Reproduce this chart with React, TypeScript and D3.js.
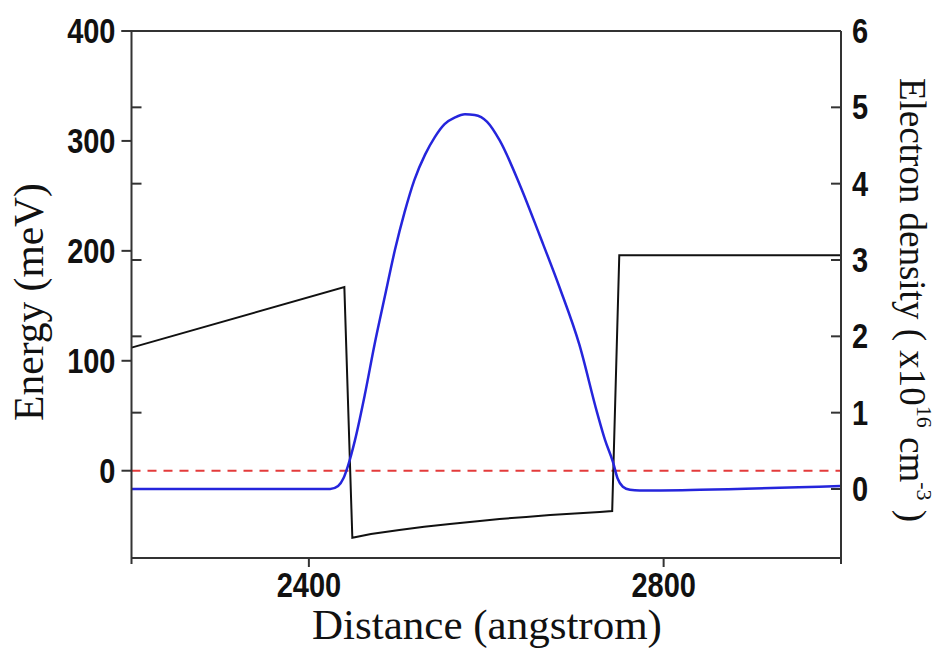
import React from "react";
import * as d3 from "d3";

// Energy profile (left axis, meV)
const energyX = [2200, 2440, 2449, 2470, 2502, 2530, 2559, 2590, 2615, 2645, 2672, 2700, 2728, 2742, 2750, 3000];
const energyY = [112, 167, -61, -57.5, -54, -51, -48.5, -46, -43.9, -42, -40.3, -39, -37.6, -36.7, 196, 196];

// Electron density (right axis, x10^16 cm^-3)
const densityX = [2200, 2424, 2433, 2439, 2444, 2452, 2463, 2474, 2486, 2497, 2508, 2519, 2531, 2542, 2553, 2565, 2576, 2587, 2601, 2615, 2638, 2660, 2683, 2705, 2725, 2734, 2743, 2748, 2754, 2762, 2773, 2841, 3000];
const densityY = [0, 0, 0.04, 0.14, 0.3, 0.64, 1.23, 1.89, 2.54, 3.13, 3.63, 4.05, 4.38, 4.61, 4.78, 4.87, 4.91, 4.9, 4.81, 4.57, 3.98, 3.33, 2.63, 1.89, 1.0, 0.64, 0.35, 0.14, 0.03, -0.01, -0.02, -0.01, 0.04];

const xTicks = [2400, 2800];
const leftTicks = [0, 100, 200, 300, 400];
const rightTicks = [0, 1, 2, 3, 4, 5, 6];
const zeroLine = [0];

const W = 946, H = 657;
const M = { left: 131.5, right: 841, top: 31, bottom: 558 };

export default function App() {
  const x = d3.scaleLinear().domain([2200, 3000]).range([M.left, M.right]);
  const yL = d3.scaleLinear().domain([-79.4, 400]).range([M.bottom, M.top]);
  const yR = d3.scaleLinear().domain([-0.904, 6]).range([M.bottom, M.top]);

  const energyLine = d3.line<number>().x((d, i) => x(energyX[i])).y((d) => yL(d));
  const densityLine = d3.line<number>().x((d, i) => x(densityX[i])).y((d) => yR(d)).curve(d3.curveMonotoneX);

  const axisColor = "#333";
  const tickFont = "'Liberation Sans', Arial, sans-serif";
  const titleFont = "'Liberation Serif', 'Times New Roman', serif";
  const sy = 1.2;

  return (
    <svg width={W} height={H} style={{ position: "absolute", left: 0, top: 0, background: "#fff" }}>
      <rect x={0} y={0} width={W} height={H} fill="#fff" />
      {zeroLine.map((v) => (
        <line key={v} x1={M.left} x2={M.right} y1={yL(v)} y2={yL(v)} stroke="#e33b3b" strokeWidth={2} strokeDasharray="9,7" />
      ))}
      <path d={energyLine(energyY) || ""} fill="none" stroke="#111" strokeWidth={2} />
      <path d={densityLine(densityY) || ""} fill="none" stroke="#2525dc" strokeWidth={2.5} />

      {/* frame */}
      <line x1={M.left - 10} x2={M.right} y1={M.top} y2={M.top} stroke={axisColor} strokeWidth={2} />
      <line x1={M.left} x2={M.right} y1={M.bottom} y2={M.bottom} stroke={axisColor} strokeWidth={2} />
      <line x1={M.left} x2={M.left} y1={M.top} y2={M.bottom + 6} stroke={axisColor} strokeWidth={2} />
      <line x1={M.right} x2={M.right} y1={M.top} y2={M.bottom + 6} stroke={axisColor} strokeWidth={2} />

      {xTicks.map((t) => (
        <g key={t}>
          <line x1={x(t)} x2={x(t)} y1={M.bottom} y2={M.bottom + 9} stroke={axisColor} strokeWidth={2} />
          <g transform={`translate(${x(t)},${M.bottom + 39}) scale(1,${sy})`}>
            <text textAnchor="middle" fontFamily={tickFont} fontWeight="bold" fontSize={29} fill="#111">{t}</text>
          </g>
        </g>
      ))}

      {leftTicks.map((t) => (
        <g key={t}>
          <line x1={M.left - 10} x2={M.left} y1={yL(t)} y2={yL(t)} stroke={axisColor} strokeWidth={2} />
          <g transform={`translate(${M.left - 16},${yL(t) + 12}) scale(1,${sy})`}>
            <text textAnchor="end" fontFamily={tickFont} fontWeight="bold" fontSize={29} fill="#111">{t}</text>
          </g>
        </g>
      ))}
      {rightTicks.filter((t) => t > 0 && t < 6).map((t) => (
        <line key={t} x1={M.left} x2={M.left + 10} y1={yR(t)} y2={yR(t)} stroke={axisColor} strokeWidth={2} />
      ))}

      {rightTicks.map((t) => (
        <g key={t}>
          <line x1={M.right - 10} x2={M.right} y1={yR(t)} y2={yR(t)} stroke={axisColor} strokeWidth={2} />
          <g transform={`translate(${M.right + 11},${yR(t) + 12}) scale(1,${sy})`}>
            <text textAnchor="start" fontFamily={tickFont} fontWeight="bold" fontSize={29} fill="#111">{t}</text>
          </g>
        </g>
      ))}

      <text x={487} y={639} textAnchor="middle" fontFamily={titleFont} fontSize={43} fill="#111">Distance (angstrom)</text>
      <text transform="translate(43,302) rotate(-90)" textAnchor="middle" fontFamily={titleFont} fontSize={41.5} fill="#111">Energy (meV)</text>
      <text transform="translate(900,300) rotate(90)" textAnchor="middle" fontFamily={titleFont} fontSize={37} fill="#111">
        <tspan>Electron density ( x10</tspan>
        <tspan fontSize={22} dy={-17}>16</tspan>
        <tspan dy={17}> cm</tspan>
        <tspan fontSize={22} dy={-17}>-3</tspan>
        <tspan dy={17}> )</tspan>
      </text>
    </svg>
  );
}
